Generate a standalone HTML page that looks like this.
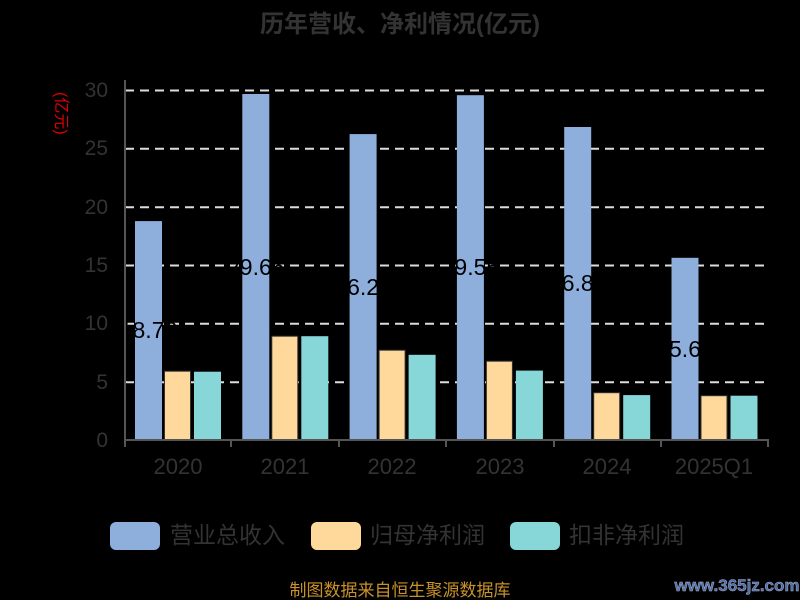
<!DOCTYPE html><html><head><meta charset="utf-8"><style>body{margin:0;background:#000}svg{display:block}text{font-family:"Liberation Sans","Noto Sans CJK SC",sans-serif}</style></head><body>
<svg width="800" height="600" xmlns="http://www.w3.org/2000/svg">
<rect width="800" height="600" fill="#000"/>
<text x="400" y="32" text-anchor="middle" font-size="24" font-weight="bold" fill="#333">历年营收、净利情况(亿元)</text>
<text x="56" y="92" font-size="16" fill="#d00" transform="rotate(90 56 92)">(亿元)</text>
<g stroke="#ddd" stroke-width="2" stroke-dasharray="9,6">
<line x1="125" x2="769" y1="90.5" y2="90.5"/><line x1="125" x2="769" y1="148.8" y2="148.8"/><line x1="125" x2="769" y1="207.2" y2="207.2"/><line x1="125" x2="769" y1="265.5" y2="265.5"/><line x1="125" x2="769" y1="323.8" y2="323.8"/><line x1="125" x2="769" y1="382.2" y2="382.2"/>
</g>
<g font-size="21" fill="#333" text-anchor="end">
<text x="108" y="97">30</text><text x="108" y="155">25</text><text x="108" y="214">20</text><text x="108" y="272">15</text><text x="108" y="330">10</text><text x="108" y="389">5</text><text x="108" y="447">0</text>
</g>
<g>
<rect x="135" y="221.1" width="27" height="218.9" fill="#8eaedc"/>
<rect x="164.5" y="371.2" width="26" height="68.8" fill="#ffd99b" stroke="#333"/>
<rect x="194" y="371.7" width="27" height="68.3" fill="#87d6d8"/>
<rect x="242.3" y="94" width="27" height="346" fill="#8eaedc"/>
<rect x="271.8" y="336.2" width="26" height="103.8" fill="#ffd99b" stroke="#333"/>
<rect x="301.3" y="336.2" width="27" height="103.8" fill="#87d6d8"/>
<rect x="349.6" y="134.1" width="27" height="305.9" fill="#8eaedc"/>
<rect x="379.1" y="350.2" width="26" height="89.8" fill="#ffd99b" stroke="#333"/>
<rect x="408.6" y="354.8" width="27" height="85.2" fill="#87d6d8"/>
<rect x="456.9" y="95.2" width="27" height="344.8" fill="#8eaedc"/>
<rect x="486.4" y="361.2" width="26" height="78.8" fill="#ffd99b" stroke="#333"/>
<rect x="515.9" y="370.6" width="27" height="69.4" fill="#87d6d8"/>
<rect x="564.2" y="127" width="27" height="313" fill="#8eaedc"/>
<rect x="593.7" y="392.7" width="26" height="47.3" fill="#ffd99b" stroke="#333"/>
<rect x="623.2" y="395.1" width="27" height="44.9" fill="#87d6d8"/>
<rect x="671.5" y="257.8" width="27" height="182.2" fill="#8eaedc"/>
<rect x="701" y="395.7" width="26" height="44.3" fill="#ffd99b" stroke="#333"/>
<rect x="730.5" y="395.7" width="27" height="44.3" fill="#87d6d8"/>
</g>
<g font-size="23" fill="#000" text-anchor="middle">
<text x="148.5" y="338">18.76</text><text x="255.8" y="275">29.66</text><text x="363.1" y="295">26.22</text><text x="470.4" y="275">29.55</text><text x="577.7" y="291">26.83</text><text x="685" y="357">15.62</text>
</g>
<line x1="125" y1="80" x2="125" y2="441" stroke="#555" stroke-width="2"/>
<line x1="124" y1="440" x2="769" y2="440" stroke="#555" stroke-width="2"/>
<g stroke="#555" stroke-width="2">
<line x1="125" y1="440" x2="125" y2="447"/><line x1="231" y1="440" x2="231" y2="447"/><line x1="339" y1="440" x2="339" y2="447"/><line x1="446" y1="440" x2="446" y2="447"/><line x1="554" y1="440" x2="554" y2="447"/><line x1="661" y1="440" x2="661" y2="447"/><line x1="768" y1="440" x2="768" y2="447"/>
</g>
<g font-size="22" fill="#333" text-anchor="middle">
<text x="178" y="474">2020</text><text x="285" y="474">2021</text><text x="392" y="474">2022</text><text x="500" y="474">2023</text><text x="607" y="474">2024</text><text x="714" y="474">2025Q1</text>
</g>
<rect x="110" y="522" width="50" height="28" rx="6" fill="#8eaedc"/>
<text x="170" y="543" font-size="23" fill="#333">营业总收入</text>
<rect x="311" y="522" width="50" height="28" rx="6" fill="#ffd99b"/>
<text x="370" y="543" font-size="23" fill="#333">归母净利润</text>
<rect x="510" y="522" width="50" height="28" rx="6" fill="#87d6d8"/>
<text x="569" y="543" font-size="23" fill="#333">扣非净利润</text>
<text x="400" y="596" font-size="17" fill="#c9912a" text-anchor="middle">制图数据来自恒生聚源数据库</text>
<text x="737" y="591" font-size="17" font-weight="bold" fill="#4a70a8" stroke="#aac" stroke-width="0.5" text-anchor="middle">www.365jz.com</text>
</svg></body></html>
